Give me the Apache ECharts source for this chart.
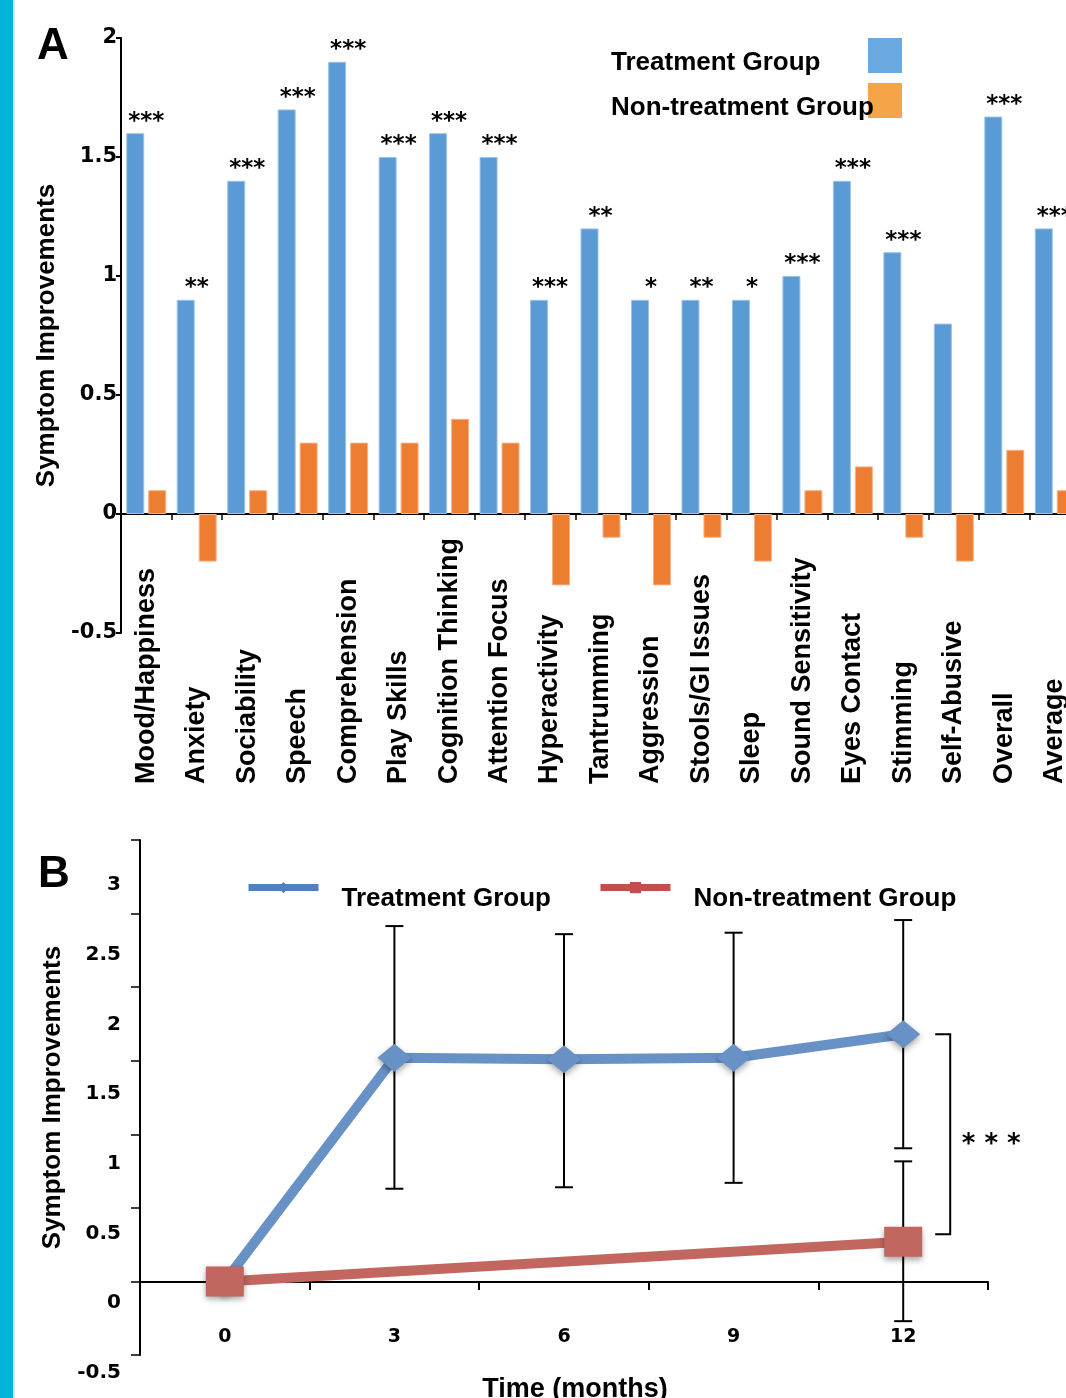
<!DOCTYPE html>
<html><head><meta charset="utf-8">
<script src="https://cdn.jsdelivr.net/npm/echarts@6/dist/echarts.min.js"></script>
<style>html,body{margin:0;padding:0;background:#fff}#c{width:1066px;height:1398px}</style>
</head><body><div id="c"></div>
<script>
// ---------- Panel A data ----------
const categories = ['Mood/Happiness','Anxiety','Sociability','Speech','Comprehension','Play Skills','Cognition Thinking','Attention Focus','Hyperactivity','Tantrumming','Aggression','Stools/GI Issues','Sleep','Sound Sensitivity','Eyes Contact','Stimming','Self-Abusive','Overall','Average'];
const treatmentA    = [1.6, 0.9, 1.4, 1.7, 1.9, 1.5, 1.6, 1.5, 0.9, 1.2, 0.9, 0.9, 0.9, 1.0, 1.4, 1.1, 0.8, 1.67, 1.2];
const nonTreatmentA = [0.1,-0.2, 0.1, 0.3, 0.3, 0.3, 0.4, 0.3,-0.3,-0.1,-0.3,-0.1,-0.2, 0.1, 0.2,-0.1,-0.2, 0.27, 0.1];
const starsA = ['***','**','***','***','***','***','***','***','***','**','*','**','*','***','***','***','','***','***'];
const yTicksA = [-0.5, 0, 0.5, 1, 1.5, 2];

// ---------- Panel B data ----------
const months = ['0','3','6','9','12'];
const treatmentB      = [0, 1.52, 1.51, 1.52, 1.68];
const treatmentBLow   = [null, 0.63, 0.64, 0.67, 0.905];
const treatmentBHigh  = [null, 2.415, 2.36, 2.37, 2.456];
const nonTreatmentB     = [0, null, null, null, 0.27];
const nonTreatmentBLow  = [null, null, null, null, -0.27];
const nonTreatmentBHigh = [null, null, null, null, 0.816];
const bracketB = [1.68, 0.32];
const bracketLabel = '* * *';
const yTicksB = [-0.5, 0, 0.5, 1, 1.5, 2, 2.5, 3];

const SANS = "'Liberation Sans', Arial, sans-serif";
const NUM = "'DejaVu Sans', sans-serif";
const BLACK = '#000';

function errData(lo, hi) {
  const out = [];
  lo.forEach((v, i) => { if (v !== null && hi[i] !== null) out.push([i, v, hi[i]]); });
  return out;
}
function renderErr(params, api) {
  const x = api.value(0);
  const top = api.coord([x, api.value(2)]);
  const bot = api.coord([x, api.value(1)]);
  const cw = 9;
  const st = { stroke: BLACK, lineWidth: 2 };
  return { type: 'group', children: [
    { type: 'line', shape: { x1: top[0], y1: top[1], x2: bot[0], y2: bot[1] }, style: st },
    { type: 'line', shape: { x1: top[0]-cw, y1: top[1], x2: top[0]+cw, y2: top[1] }, style: st },
    { type: 'line', shape: { x1: bot[0]-cw, y1: bot[1], x2: bot[0]+cw, y2: bot[1] }, style: st }
  ]};
}
function renderBracket(params, api) {
  const x = api.value(0);
  const p1 = api.coord([x, api.value(1)]);
  const p2 = api.coord([x, api.value(2)]);
  const bx = p1[0] + 47;
  return { type: 'group', children: [
    { type: 'polyline', shape: { points: [[bx-15, p1[1]], [bx, p1[1]], [bx, p2[1]], [bx-15, p2[1]]] }, style: { stroke: BLACK, lineWidth: 2, fill: null } },
    { type: 'text', x: bx + 41, y: (p1[1] + p2[1]) / 2 + 11, style: { text: bracketLabel, fontFamily: NUM, fontWeight: 'bold', fontSize: 26, fill: BLACK, align: 'center', verticalAlign: 'middle' } }
  ]};
}

const chart = echarts.init(document.getElementById('c'), null, { renderer: 'canvas' });
const option = {
  animation: false,
  backgroundColor: '#fff',
  title: [
    { text: 'A', left: 37, top: 25, padding: 0, textStyle: { fontFamily: SANS, fontWeight: 'bold', fontSize: 44, color: BLACK } },
    { text: 'B', left: 38, top: 853, padding: 0, textStyle: { fontFamily: SANS, fontWeight: 'bold', fontSize: 44, color: BLACK } }
  ],
  graphic: [
    { type: 'rect', shape: { x: 0, y: 0, width: 13, height: 1398 }, style: { fill: '#00b3d7' }, z: 100 },
    { type: 'rect', shape: { x: 13, y: 0, width: 2, height: 1398 }, style: { fill: '#d5e6ec' }, z: 100 }
  ],
  legend: [
    {
      orient: 'vertical', left: 611, top: 38, padding: 0, align: 'right', icon: 'rect',
      itemWidth: 34, itemHeight: 35, itemGap: 7, selectedMode: false,
      data: [
        { name: 'Treatment Group', itemStyle: { color: '#6aaae0', borderWidth: 0 } },
        { name: 'Non-treatment Group', itemStyle: { color: '#f5a547', borderWidth: 0 } }
      ],
      formatter: n => '{a|' + n + '}',
      textStyle: { rich: { a: { width: 252, align: 'left', fontFamily: SANS, fontWeight: 'bold', fontSize: 26, color: BLACK, padding: [15, 0, 0, 0] } } }
    },
    {
      orient: 'horizontal', left: 245, top: 882, padding: 0, itemWidth: 70, itemHeight: 14, itemGap: 46, selectedMode: false,
      data: [
        { name: 'B: Treatment Group', itemStyle: { color: '#4f81bd' }, lineStyle: { color: '#4f81bd', width: 7 } },
        { name: 'B: Non-treatment Group', itemStyle: { color: '#c0504d' }, lineStyle: { color: '#c0504d', width: 7 } }
      ],
      formatter: n => '{b|' + n.slice(3) + '}',
      textStyle: { rich: { b: { fontFamily: SANS, fontWeight: 'bold', fontSize: 26, color: BLACK, padding: [22, 0, 0, 18] } } }
    }
  ],
  grid: [
    { left: 121, right: -14, top: 38, bottom: 765, outerBoundsMode: 'none' },
    { left: 140, right: 78, top: 840, bottom: 43, outerBoundsMode: 'none' },
    { left: 140, right: 78, top: 885, bottom: 25, outerBoundsMode: 'none' }
  ],
  xAxis: [
    {
      gridIndex: 0, type: 'category', data: categories,
      axisLine: { onZero: true, lineStyle: { color: BLACK, width: 2 } },
      axisTick: { show: true, length: 6, lineStyle: { color: BLACK, width: 1.5 } },
      axisLabel: { interval: 0, rotate: 90, align: 'left', margin: 151, fontFamily: SANS, fontWeight: 'bold', fontSize: 27, color: BLACK }
    },
    {
      gridIndex: 1, type: 'category', data: months, boundaryGap: true, position: 'bottom', offset: -73,
      axisLine: { onZero: false, lineStyle: { color: BLACK, width: 2 } },
      axisTick: { show: true, length: 8, lineStyle: { color: BLACK, width: 2 } },
      axisLabel: { show: true, interval: 0, margin: 46, fontFamily: NUM, fontWeight: 'bold', fontSize: 19, color: BLACK },
      name: 'Time (months)', nameLocation: 'middle', nameGap: 94,
      nameTextStyle: { fontFamily: SANS, fontWeight: 'bold', fontSize: 27, color: BLACK, padding: [0, 0, 0, 22] }
    },
    { gridIndex: 2, type: 'category', data: months, show: false }
  ],
  yAxis: [
    {
      gridIndex: 0, type: 'value', min: yTicksA[0], max: yTicksA[yTicksA.length-1], interval: 0.5,
      axisLine: { show: true, lineStyle: { color: BLACK, width: 2 } },
      axisTick: { show: true, length: 5, lineStyle: { color: BLACK, width: 2 } },
      splitLine: { show: false },
      axisLabel: { margin: 4, fontFamily: NUM, fontWeight: 'bold', fontSize: 21, color: BLACK },
      name: 'Symptom Improvements', nameLocation: 'middle', nameGap: 55,
      nameTextStyle: { fontFamily: SANS, fontWeight: 'bold', fontSize: 26, color: BLACK }
    },
    {
      gridIndex: 1, type: 'value', min: yTicksB[0], max: yTicksB[yTicksB.length-1], interval: 0.5,
      axisLine: { show: true, onZero: false, lineStyle: { color: BLACK, width: 2 } },
      axisTick: { show: true, length: 9, lineStyle: { color: BLACK, width: 1.5 } },
      splitLine: { show: false },
      axisLabel: { show: false },
      name: 'Symptom Improvements', nameLocation: 'middle', nameGap: 74,
      nameTextStyle: { fontFamily: SANS, fontWeight: 'bold', fontSize: 26, color: BLACK }
    },
    {
      gridIndex: 2, type: 'value', min: yTicksB[0], max: yTicksB[yTicksB.length-1], interval: 0.5,
      axisLine: { show: false }, axisTick: { show: false }, splitLine: { show: false },
      axisLabel: { margin: 19, fontFamily: NUM, fontWeight: 'bold', fontSize: 20, color: BLACK }
    }
  ],
  series: [
    {
      type: 'bar', name: 'Treatment Group', xAxisIndex: 0, yAxisIndex: 0, data: treatmentA,
      barWidth: 18, barGap: '22%',
      itemStyle: { color: '#5b9bd5', borderColor: '#9cc2e8', borderWidth: 1 },
      label: { show: true, position: 'top', distance: 0, offset: [11, 0], formatter: p => starsA[p.dataIndex],
               fontFamily: NUM, fontWeight: 'bold', fontSize: 23, color: BLACK }
    },
    {
      type: 'bar', name: 'Non-treatment Group', xAxisIndex: 0, yAxisIndex: 0, data: nonTreatmentA,
      barWidth: 18,
      itemStyle: { color: '#ed7d31', borderColor: '#f5b38a', borderWidth: 1 }
    },
    {
      type: 'custom', name: 'errT', xAxisIndex: 1, yAxisIndex: 1, z: 1,
      data: errData(treatmentBLow, treatmentBHigh), renderItem: renderErr
    },
    {
      type: 'custom', name: 'errN', xAxisIndex: 1, yAxisIndex: 1, z: 1,
      data: errData(nonTreatmentBLow, nonTreatmentBHigh), renderItem: renderErr
    },
    {
      type: 'line', name: 'B: Treatment Group', xAxisIndex: 1, yAxisIndex: 1, data: treatmentB,
      symbol: 'diamond', symbolSize: [34, 28], z: 3,
      lineStyle: { width: 10, color: '#6891c6' },
      itemStyle: { color: '#6891c6', shadowBlur: 6, shadowColor: 'rgba(0,0,0,0.35)', shadowOffsetY: 3 }
    },
    {
      type: 'line', name: 'B: Non-treatment Group', xAxisIndex: 1, yAxisIndex: 1, data: nonTreatmentB,
      connectNulls: true, symbol: 'rect', symbolSize: [38, 30], z: 4,
      lineStyle: { width: 10, color: '#c1675f' },
      itemStyle: { color: '#c1675f', shadowBlur: 6, shadowColor: 'rgba(0,0,0,0.35)', shadowOffsetY: 3 }
    },
    {
      type: 'custom', name: 'bracket', xAxisIndex: 1, yAxisIndex: 1, z: 5,
      data: [[months.length - 1, bracketB[0], bracketB[1]]], renderItem: renderBracket
    }
  ]
};
chart.setOption(option);
</script>
</body></html>
